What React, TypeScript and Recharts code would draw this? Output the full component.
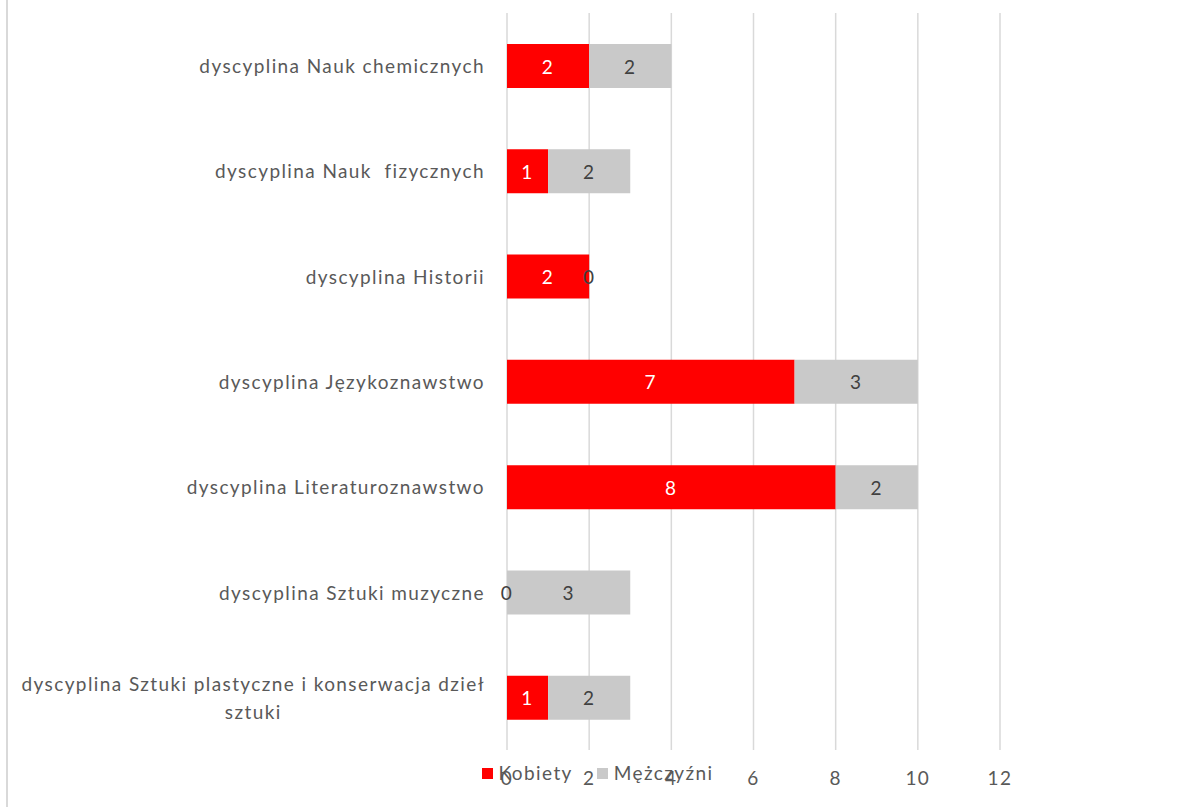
import React from 'react';
import { BarChart, Bar, XAxis, YAxis, CartesianGrid, Legend, LabelList } from 'recharts';

const categories = [
  'dyscyplina Nauk chemicznych',
  'dyscyplina Nauk  fizycznych',
  'dyscyplina Historii',
  'dyscyplina Językoznawstwo',
  'dyscyplina Literaturoznawstwo',
  'dyscyplina Sztuki muzyczne',
  'dyscyplina Sztuki plastyczne i konserwacja dzieł sztuki',
];
const kobiety = [2, 1, 2, 7, 8, 0, 1];
const mezczyzni = [2, 2, 0, 3, 2, 3, 2];
const xTicks = [0, 2, 4, 6, 8, 10, 12];

const data = categories.map((c, i) => ({ name: c, Kobiety: kobiety[i], Mezczyzni: mezczyzni[i] }));

const FONT = 'Lato, "Open Sans", sans-serif';
const FS = 19;
const LS = 1.4;
const TXT = '#595959';
const DARK = '#404040';

let ctx: CanvasRenderingContext2D | null = null;
const measure = (t: string) => {
  if (!ctx) {
    ctx = document.createElement('canvas').getContext('2d');
  }
  if (!ctx) return t.length * (FS * 0.5 + LS);
  ctx.font = `${FS}px Lato`;
  return ctx.measureText(t).width + t.length * LS;
};

const wrap = (text: string, maxW: number) => {
  const words = text.split(' ');
  const lines: string[] = [];
  let cur = '';
  words.forEach((w) => {
    const test = cur === '' ? w : cur + ' ' + w;
    if (measure(test) > maxW && cur !== '') {
      lines.push(cur);
      cur = w;
    } else cur = test;
  });
  if (cur) lines.push(cur);
  return lines;
};

const textStyle = { whiteSpace: 'pre' as const, letterSpacing: LS };

const CategoryTick = (props: any) => {
  const { x, y, payload } = props;
  const lines = wrap(payload.value, 470);
  if (lines.length === 1) {
    return (
      <text x={x} y={y} textAnchor="end" dominantBaseline="central" fill={TXT} fontSize={FS} fontFamily={FONT} style={textStyle}>
        {payload.value}
      </text>
    );
  }
  const bw = Math.max(...lines.map(measure));
  const cx = x - bw / 2;
  const lh = FS * 1.48;
  return (
    <g>
      {lines.map((l, i) => (
        <text key={i} x={cx} y={y + (i - (lines.length - 1) / 2) * lh} textAnchor="middle" dominantBaseline="central" fill={TXT} fontSize={FS} fontFamily={FONT} style={textStyle}>
          {l}
        </text>
      ))}
    </g>
  );
};

const ValueText = ({ x, y, v, color }: { x: number; y: number; v: number; color: string }) => (
  <text x={x} y={y} textAnchor="middle" dominantBaseline="central" fill={color} fontSize={FS} fontFamily={FONT} style={textStyle}>
    {v}
  </text>
);

const rowAccessor = (entry: any) => entry && entry.payload;

// Kobiety label; also shows a zero Mężczyźni value at the end of the bar
const kobietyLabel = (props: any) => {
  const { x, y, width, height, value } = props;
  const row = value && typeof value === 'object' ? value : null;
  if (!row) return null;
  const cy = y + height / 2;
  return (
    <g>
      {row.Kobiety !== 0 && <ValueText x={x + width / 2} y={cy} v={row.Kobiety} color="#ffffff" />}
      {row.Mezczyzni === 0 && <ValueText x={x + width} y={cy} v={0} color={DARK} />}
    </g>
  );
};

// Mężczyźni label; also shows a zero Kobiety value at the start of the bar
const mezczyzniLabel = (props: any) => {
  const { x, y, width, height, value } = props;
  const row = value && typeof value === 'object' ? value : null;
  if (!row) return null;
  const cy = y + height / 2;
  return (
    <g>
      {row.Mezczyzni !== 0 && <ValueText x={x + width / 2} y={cy} v={row.Mezczyzni} color={DARK} />}
      {row.Kobiety === 0 && <ValueText x={x} y={cy} v={0} color={DARK} />}
    </g>
  );
};

const renderLegend = (props: any) => {
  const { payload } = props;
  return (
    <div style={{ display: 'flex', justifyContent: 'center', alignItems: 'center', fontFamily: FONT, fontSize: FS, color: TXT, letterSpacing: LS, lineHeight: '24px' }}>
      {payload.map((p: any, i: number) => (
        <div key={i} style={{ display: 'flex', alignItems: 'center', marginRight: i === 0 ? 24 : 0 }}>
          <span style={{ display: 'inline-block', width: 11, height: 11, background: p.color, marginRight: 6 }} />
          <span>{p.value}</span>
        </div>
      ))}
    </div>
  );
};

export default function App() {
  return (
    <div style={{ position: 'absolute', left: 0, top: 0, width: 1195, height: 807, background: '#fff' }}>
      <div style={{ position: 'absolute', left: 6, top: 0, width: 2, height: 807, background: '#d9d9d9' }} />
      <BarChart
        width={1195}
        height={807}
        data={data}
        layout="vertical"
        margin={{ top: 13, right: 195, bottom: 0, left: 0 }}
        barSize={44}
      >
        <CartesianGrid horizontal={false} vertical={true} stroke="#d9d9d9" strokeWidth={1.5} />
        <XAxis
          type="number"
          domain={[0, 12]}
          ticks={xTicks}
          axisLine={false}
          tickLine={false}
          tickSize={0}
          tickMargin={22}
          height={33}
          tick={{ fill: TXT, fontSize: FS, fontFamily: FONT, style: { letterSpacing: LS } }}
        />
        <YAxis
          type="category"
          dataKey="name"
          width={507}
          axisLine={false}
          tickLine={false}
          tickSize={0}
          tickMargin={22}
          interval={0}
          tick={<CategoryTick />}
        />
        <Legend
          content={renderLegend}
          wrapperStyle={{ position: 'absolute', left: 0, top: 761, width: 1195, bottom: 'auto' }}
        />
        <Bar dataKey="Kobiety" name="Kobiety" stackId="a" fill="#ff0000" isAnimationActive={false}>
          <LabelList valueAccessor={rowAccessor} content={kobietyLabel} />
        </Bar>
        <Bar dataKey="Mezczyzni" name="Mężczyźni" stackId="a" fill="#c9c9c9" isAnimationActive={false}>
          <LabelList valueAccessor={rowAccessor} content={mezczyzniLabel} />
        </Bar>
      </BarChart>
    </div>
  );
}
